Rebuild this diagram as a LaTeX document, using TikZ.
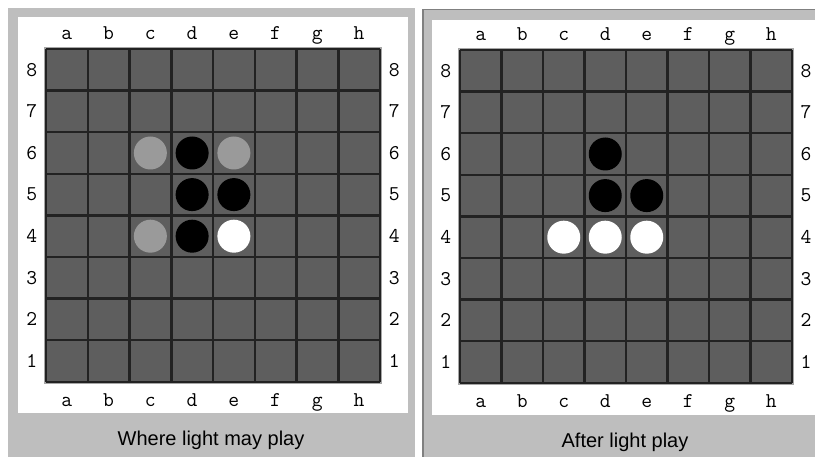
\documentclass[tikz,border=0pt]{standalone}
\usepackage{fontspec}
\setmainfont{Liberation Sans}
\definecolor{feld}{HTML}{5E5E5E}
\definecolor{linie}{HTML}{222222}
\definecolor{rahmen}{HTML}{BEBEBE}
\definecolor{tipp}{HTML}{9A9A9A}
\tikzset{
  beschriftung/.style={font=\ttfamily\fontsize{21}{21}\selectfont, inner sep=0pt},
  unterschrift/.style={font=\fontsize{20}{22}\selectfont, inner sep=0pt},
  stein/.style={circle, minimum size=33pt, inner sep=0pt},
  schwarz/.style={stein, fill=black},
  weiss/.style={stein, fill=white},
  hinweis/.style={stein, fill=tipp},
}
%Spielfeld mit Beschriftung, #1 = Praefix der Knotennamen
\newcommand{\spielfeld}[1]{
  %Feld
  \draw[gray!70, line width=4.5pt] (0,0) rectangle (8,8);
  \fill[feld] (0,0) rectangle (8,8);
  %Linien
  \foreach \i in {0,...,8}{
    \draw[linie, line width=2.5pt] (\i,0) -- (\i,8);
    \draw[linie, line width=2.5pt] (0,\i) -- (8,\i);
  }
  %Buchstaben
  \foreach \b [count=\i] in {a,b,c,d,e,f,g,h}{
    \node[beschriftung, anchor=base] (#1-oben-\b) at (\i-0.5,-0.22) {\b};
    \node[beschriftung, anchor=base] (#1-unten-\b) at (\i-0.5,8.6) {\b};
  }
  %Zahlen
  \foreach \z in {1,...,8}{
    \node[beschriftung] (#1-links-\z) at (-0.34,8.5-\z) {\z};
    \node[beschriftung] (#1-rechts-\z) at (8.34,8.5-\z) {\z};
  }
}
\begin{document}
\begin{tikzpicture}[x=1pt, y=-1pt]
  \useasboundingbox (0,0) rectangle (815,457);
  \fill[white] (0,0) rectangle (815,457);

  %linker Rahmen
  \fill[rahmen] (8,8) rectangle (415,457);
  \fill[white] (18,17) rectangle (408,413);

  %rechter Rahmen
  \fill[rahmen] (422,9) rectangle (815,457);
  \draw[gray, line width=1.5pt] (422.75,457) -- (422.75,9.75) -- (815,9.75);
  \fill[white] (432,20) rectangle (815,415);

  %linkes Brett
  \begin{scope}[shift={(46pt,-49pt)}, x=41.75pt, y=-41.6pt]
    \spielfeld{links}
    \node[hinweis] (links-c6) at (2.5,2.5) {};
    \node[schwarz] (links-d6) at (3.5,2.5) {};
    \node[hinweis] (links-e6) at (4.5,2.5) {};
    \node[schwarz] (links-d5) at (3.5,3.5) {};
    \node[schwarz] (links-e5) at (4.5,3.5) {};
    \node[hinweis] (links-c4) at (2.5,4.5) {};
    \node[schwarz] (links-d4) at (3.5,4.5) {};
    \node[weiss] (links-e4) at (4.5,4.5) {};
  \end{scope}

  %rechtes Brett
  \begin{scope}[shift={(460pt,-50pt)}, x=41.5pt, y=-41.6pt]
    \spielfeld{rechts}
    \node[schwarz] (rechts-d6) at (3.5,2.5) {};
    \node[schwarz] (rechts-d5) at (3.5,3.5) {};
    \node[schwarz] (rechts-e5) at (4.5,3.5) {};
    \node[weiss] (rechts-c4) at (2.5,4.5) {};
    \node[weiss] (rechts-d4) at (3.5,4.5) {};
    \node[weiss] (rechts-e4) at (4.5,4.5) {};
  \end{scope}

  %Unterschriften
  \node[unterschrift] (links-text) at (211,440) {Where light may play};
  \node[unterschrift] (rechts-text) at (625,442) {After light play};
\end{tikzpicture}
\end{document}
